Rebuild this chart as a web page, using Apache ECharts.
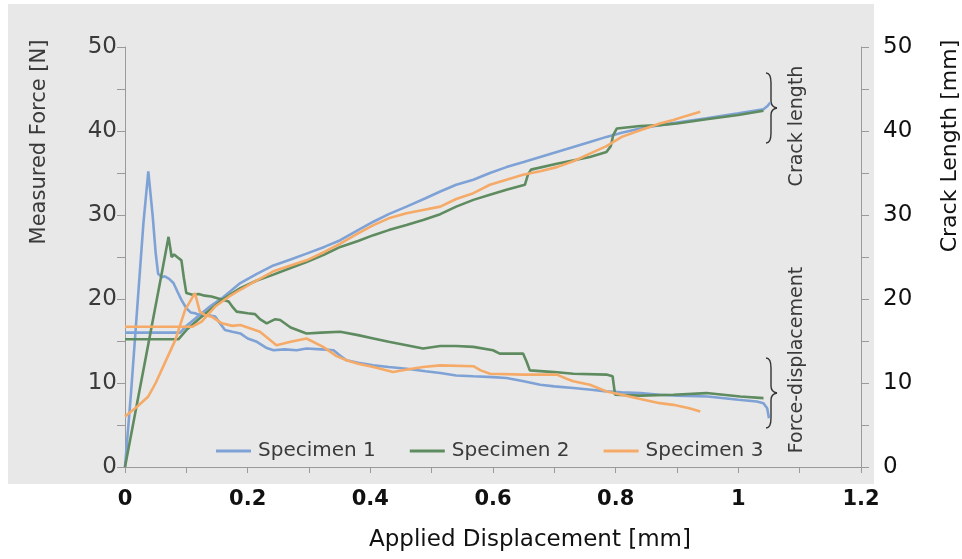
<!DOCTYPE html>
<html>
<head>
<meta charset="utf-8">
<script src="https://cdn.jsdelivr.net/npm/echarts@6/dist/echarts.min.js"></script>
<style>html,body{margin:0;padding:0;background:#fff;}#c{width:962px;height:559px;}</style>
</head>
<body>
<div id="c"></div>
<script>
// ---- data ----
var seriesNames = ['Specimen 1', 'Specimen 2', 'Specimen 3'];
var xTicks = [0, 0.2, 0.4, 0.6, 0.8, 1, 1.2];
var yTicks = [0, 10, 20, 30, 40, 50];

var s1Force = [[0,0],[0.01,9],[0.02,19],[0.03,29],[0.038,35.2],[0.045,30],[0.05,25.5],[0.054,23.0],[0.06,22.6],[0.065,22.7],[0.072,22.4],[0.079,21.9],[0.086,20.8],[0.092,19.9],[0.1,18.9],[0.107,18.4],[0.114,18.3],[0.125,18.0],[0.135,18.1],[0.147,17.9],[0.155,17.1],[0.163,16.3],[0.175,16.1],[0.188,15.9],[0.2,15.3],[0.215,14.9],[0.23,14.2],[0.242,13.9],[0.26,14.0],[0.28,13.9],[0.296,14.1],[0.32,14.0],[0.34,13.9],[0.35,13.3],[0.361,12.7],[0.38,12.4],[0.405,12.1],[0.43,11.9],[0.459,11.7],[0.49,11.4],[0.514,11.2],[0.54,10.9],[0.568,10.8],[0.6,10.7],[0.622,10.6],[0.65,10.2],[0.677,9.8],[0.7,9.6],[0.731,9.4],[0.76,9.2],[0.785,9.0],[0.81,8.9],[0.84,8.8],[0.872,8.6],[0.9,8.5],[0.95,8.4],[1.0,8.0],[1.03,7.8],[1.041,7.6],[1.047,7.0],[1.05,5.8]];
var s1Crack = [[0,16.0],[0.09,16.0],[0.1,16.8],[0.12,18.0],[0.14,19.2],[0.16,20.2],[0.188,21.9],[0.215,23.0],[0.242,24.0],[0.27,24.7],[0.296,25.4],[0.325,26.2],[0.351,27.0],[0.38,28.2],[0.405,29.2],[0.43,30.1],[0.459,31.0],[0.49,32.0],[0.514,32.8],[0.54,33.6],[0.568,34.2],[0.595,35.0],[0.622,35.7],[0.65,36.3],[0.677,36.9],[0.704,37.5],[0.731,38.1],[0.758,38.7],[0.785,39.3],[0.81,39.8],[0.84,40.3],[0.872,40.7],[0.9,41.0],[0.948,41.5],[1.0,42.1],[1.041,42.6],[1.048,43.0],[1.052,43.4]];

var s2Force = [[0,0],[0.02,7.7],[0.04,15.4],[0.06,23.1],[0.071,27.4],[0.074,26.0],[0.076,25.0],[0.08,25.3],[0.085,25.0],[0.092,24.6],[0.096,22.5],[0.1,20.7],[0.11,20.5],[0.12,20.6],[0.13,20.4],[0.141,20.3],[0.155,20.0],[0.169,19.7],[0.176,19.0],[0.182,18.5],[0.2,18.3],[0.212,18.2],[0.22,17.6],[0.231,17.1],[0.245,17.6],[0.253,17.5],[0.27,16.6],[0.296,15.9],[0.32,16.0],[0.351,16.1],[0.38,15.7],[0.405,15.3],[0.43,14.9],[0.459,14.5],[0.486,14.1],[0.514,14.4],[0.54,14.4],[0.568,14.3],[0.6,13.9],[0.611,13.5],[0.649,13.5],[0.655,12.5],[0.66,11.5],[0.7,11.3],[0.731,11.1],[0.785,11.0],[0.795,10.8],[0.799,8.6],[0.84,8.5],[0.894,8.6],[0.948,8.8],[1.003,8.4],[1.041,8.2]];
var s2Crack = [[0,15.2],[0.087,15.2],[0.1,16.3],[0.12,17.6],[0.14,18.8],[0.16,20.0],[0.188,21.3],[0.215,22.2],[0.242,22.9],[0.27,23.7],[0.296,24.4],[0.325,25.3],[0.351,26.2],[0.38,26.9],[0.405,27.6],[0.43,28.2],[0.459,28.8],[0.486,29.4],[0.514,30.1],[0.54,31.0],[0.568,31.8],[0.595,32.4],[0.622,33.0],[0.652,33.6],[0.657,34.8],[0.662,35.4],[0.704,36.1],[0.758,36.9],[0.785,37.5],[0.792,38.2],[0.796,39.5],[0.802,40.3],[0.84,40.6],[0.872,40.7],[0.9,40.9],[0.948,41.4],[1.0,41.9],[1.041,42.4]];

var s3Force = [[0,6.0],[0.02,7.2],[0.038,8.4],[0.05,10.0],[0.065,12.4],[0.082,15.1],[0.098,18.7],[0.114,20.7],[0.118,19.6],[0.122,18.5],[0.13,18.1],[0.141,17.9],[0.158,17.1],[0.175,16.8],[0.188,16.9],[0.2,16.6],[0.22,16.1],[0.235,15.2],[0.247,14.5],[0.27,14.9],[0.296,15.3],[0.323,14.3],[0.345,13.2],[0.361,12.7],[0.38,12.3],[0.405,11.9],[0.437,11.3],[0.46,11.6],[0.486,11.9],[0.514,12.1],[0.568,12.0],[0.58,11.5],[0.595,11.1],[0.649,11.0],[0.704,11.0],[0.72,10.5],[0.731,10.2],[0.758,9.8],[0.785,9.0],[0.81,8.6],[0.84,8.1],[0.872,7.6],[0.894,7.4],[0.92,7.0],[0.938,6.6]];
var s3Crack = [[0,16.7],[0.11,16.7],[0.125,17.3],[0.147,19.1],[0.17,20.3],[0.188,21.1],[0.212,22.1],[0.242,23.3],[0.27,24.0],[0.296,24.6],[0.325,25.6],[0.351,26.6],[0.38,27.8],[0.405,28.8],[0.43,29.6],[0.459,30.2],[0.486,30.6],[0.514,31.0],[0.54,31.9],[0.568,32.6],[0.595,33.6],[0.622,34.2],[0.649,34.8],[0.677,35.2],[0.704,35.7],[0.731,36.4],[0.758,37.3],[0.785,38.2],[0.81,39.3],[0.84,40.1],[0.872,40.9],[0.894,41.3],[0.915,41.8],[0.938,42.3]];

var colors = ['#7fa2d6', '#5e8b5f', '#f5aa68'];
var forceData = [s1Force, s2Force, s3Force];
var crackData = [s1Crack, s2Crack, s3Crack];

// ---- chart ----
var FONT = 'DejaVu Sans';
var chart = echarts.init(document.getElementById('c'), null, {renderer: 'canvas'});
var series = [];
for (var i = 0; i < 3; i++) {
  series.push({name: seriesNames[i], type: 'line', yAxisIndex: 0, data: forceData[i], showSymbol: false, symbol: 'none', lineStyle: {color: colors[i], width: 2.6}, itemStyle: {color: colors[i]}, z: 3});
  series.push({name: seriesNames[i], type: 'line', yAxisIndex: 1, data: crackData[i], showSymbol: false, symbol: 'none', lineStyle: {color: colors[i], width: 2.6}, itemStyle: {color: colors[i]}, z: 3});
}
function brace(cx, cy, h) {
  var a = h / 2;
  var st = {stroke: '#333', lineWidth: 1.4, fill: null};
  return {
    type: 'group', x: cx, y: cy, silent: true,
    children: [
      {type: 'bezierCurve', shape: {x1: 0, y1: -a, cpx1: 5, cpy1: -a, x2: 5, y2: -a + 10}, style: st},
      {type: 'line', shape: {x1: 5, y1: -a + 10, x2: 5, y2: -7}, style: st},
      {type: 'bezierCurve', shape: {x1: 5, y1: -7, cpx1: 5, cpy1: -1, x2: 11, y2: 0}, style: st},
      {type: 'bezierCurve', shape: {x1: 11, y1: 0, cpx1: 5, cpy1: 1, x2: 5, y2: 7}, style: st},
      {type: 'line', shape: {x1: 5, y1: 7, x2: 5, y2: a - 10}, style: st},
      {type: 'bezierCurve', shape: {x1: 5, y1: a - 10, cpx1: 5, cpy1: a, x2: 0, y2: a}, style: st}
    ]
  };
}
var titleColor = '#3a3a3a';
var option = {
  animation: false,
  backgroundColor: '#ffffff',
  grid: {left: 125, right: 101, top: 47, bottom: 92, containLabel: false},
  legend: {
    data: seriesNames,
    left: 211, top: 436,
    itemWidth: 35, itemHeight: 3, itemGap: 34,
    icon: 'rect',
    textStyle: {fontFamily: FONT, fontSize: 20, color: titleColor, padding: [0, 0, 0, 2]}
  },
  xAxis: {
    type: 'value', min: 0, max: 1.2, interval: 0.2,
    axisLine: {show: true, lineStyle: {color: '#9a9a9a', width: 1}},
    axisTick: {show: true, length: 6, lineStyle: {color: '#9a9a9a'}},
    minorTick: {show: true, splitNumber: 2, length: 6, lineStyle: {color: '#9a9a9a'}},
    splitLine: {show: false},
    axisLabel: {margin: 22, fontFamily: FONT, fontSize: 21, fontWeight: 'bold', color: '#111',
      formatter: function (v) { return String(Math.round(v * 10) / 10); }}
  },
  yAxis: [{
    type: 'value', min: 0, max: 50, interval: 10, position: 'left',
    axisLine: {show: true, lineStyle: {color: '#9a9a9a', width: 1}},
    axisTick: {show: true, length: 8, lineStyle: {color: '#9a9a9a'}},
    minorTick: {show: true, splitNumber: 2, length: 8, lineStyle: {color: '#9a9a9a'}},
    splitLine: {show: false},
    axisLabel: {margin: 8, fontFamily: FONT, fontSize: 23, color: titleColor}
  }, {
    type: 'value', min: 0, max: 50, interval: 10, position: 'right',
    axisLine: {show: true, lineStyle: {color: '#9a9a9a', width: 1}},
    axisTick: {show: true, length: 8, lineStyle: {color: '#9a9a9a'}},
    minorTick: {show: true, splitNumber: 2, length: 8, lineStyle: {color: '#9a9a9a'}},
    splitLine: {show: false},
    axisLabel: {margin: 22, fontFamily: FONT, fontSize: 23, color: '#111'}
  }],
  graphic: [
    {type: 'rect', z: -100, silent: true, shape: {x: 8, y: 4, width: 866, height: 480}, style: {fill: '#e8e8e8'}},
    {type: 'text', x: 40, y: 142, rotation: Math.PI / 2, style: {text: 'Measured Force [N]', fontFamily: FONT, fontSize: 21, fill: titleColor, align: 'center', verticalAlign: 'middle'}},
    {type: 'text', x: 950, y: 146, rotation: Math.PI / 2, style: {text: 'Crack Length [mm]', fontFamily: FONT, fontSize: 22, fill: '#111', align: 'center', verticalAlign: 'middle'}},
    {type: 'text', x: 530, y: 540, style: {text: 'Applied Displacement [mm]', fontFamily: FONT, fontSize: 23, fill: '#111', align: 'center', verticalAlign: 'middle'}},
    {type: 'text', x: 797, y: 126, rotation: Math.PI / 2, style: {text: 'Crack length', fontFamily: FONT, fontSize: 19, fill: titleColor, align: 'center', verticalAlign: 'middle'}},
    {type: 'text', x: 797, y: 360, rotation: Math.PI / 2, style: {text: 'Force-displacement', fontFamily: FONT, fontSize: 19, fill: titleColor, align: 'center', verticalAlign: 'middle'}},
    brace(766, 108, 70),
    brace(766, 393, 70)
  ],
  series: series
};
chart.setOption(option);
</script>
</body>
</html>
